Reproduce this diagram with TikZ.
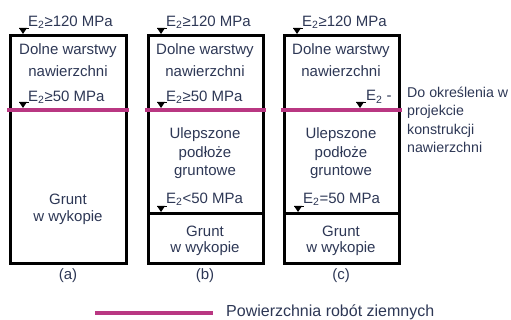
\documentclass[tikz,border=0pt]{standalone}
\usepackage{fontspec}
\setmainfont{Liberation Sans}
\definecolor{txt}{RGB}{45,55,85}
\definecolor{mag}{RGB}{185,55,130}
\begin{document}
\begin{tikzpicture}[x=1pt,y=-1pt,
  lbl/.style={text=txt,font=\fontsize{15}{18}\selectfont,inner sep=0pt},
  box/.style={draw=black,line width=3pt},
  surf/.style={draw=mag,line width=4pt},
  sep/.style={draw=black,line width=3pt},
  tri/.style={fill=black}]
\useasboundingbox (0,0) rectangle (511,320);
% boxes
\draw[box] (10,36) rectangle (126,264);
\draw[box] (148,36) rectangle (263,264);
\draw[box] (284,36) rectangle (399,264);
\draw[sep] (148,214) -- (263,214);
\draw[sep] (284,214) -- (399,214);
% earthworks surface
\draw[surf] (7,110) -- (129,110);
\draw[surf] (145,110) -- (266,110);
\draw[surf] (281,110) -- (402,110);
% markers
\foreach \x/\y in {23/36,161/36,297/36,23/110,161/110,161/214,298/214,360/110}{
  \fill[tri] (\x-4,\y-8) -- (\x+4,\y-8) -- (\x,\y-2) -- cycle;
  \draw[black,line width=0.6pt] (\x-4,\y-8) -- (\x+6,\y-8);
}
% box a
\node[lbl,anchor=west] (a1) at (28,22) {E\textsubscript{2}≥120 MPa};
\node[lbl] (a2) at (68,51) {Dolne warstwy};
\node[lbl] (a3) at (68,71) {nawierzchni};
\node[lbl,anchor=west] (a4) at (28,97) {E\textsubscript{2}≥50 MPa};
\node[lbl] (a5) at (68,199) {Grunt};
\node[lbl] (a6) at (68,218) {w wykopie};
\node[lbl] (la) at (68,276) {(a)};
% box b
\node[lbl,anchor=west] (b1) at (166,22) {E\textsubscript{2}≥120 MPa};
\node[lbl] (b2) at (205,51) {Dolne warstwy};
\node[lbl] (b3) at (205,71) {nawierzchni};
\node[lbl,anchor=west] (b4) at (166,97) {E\textsubscript{2}≥50 MPa};
\node[lbl] (b5) at (205,135) {Ulepszone};
\node[lbl] (b6) at (205,154) {podłoże};
\node[lbl] (b7) at (205,172) {gruntowe};
\node[lbl,anchor=west] (b8) at (166,199) {E\textsubscript{2}<50 MPa};
\node[lbl] (b9) at (205,231) {Grunt};
\node[lbl] (b10) at (205,249) {w wykopie};
\node[lbl] (lb) at (205,276) {(b)};
% box c
\node[lbl,anchor=west] (c1) at (302,22) {E\textsubscript{2}≥120 MPa};
\node[lbl] (c2) at (341,51) {Dolne warstwy};
\node[lbl] (c3) at (341,71) {nawierzchni};
\node[lbl,anchor=west] (c4) at (366,97) {E\textsubscript{2} -};
\node[lbl] (c5) at (341,135) {Ulepszone};
\node[lbl] (c6) at (341,154) {podłoże};
\node[lbl] (c7) at (341,172) {gruntowe};
\node[lbl,anchor=west] (c8) at (303,199) {E\textsubscript{2}=50 MPa};
\node[lbl] (c9) at (341,231) {Grunt};
\node[lbl] (c10) at (341,249) {w wykopie};
\node[lbl] (lc) at (341,276) {(c)};
% note
\node[lbl,anchor=north west,align=left,font=\fontsize{14.2}{18.3}\selectfont] (note) at (407,87)
  {Do określenia w\\projekcie\\konstrukcji\\nawierzchni};
% legend
\coordinate (l1) at (95,313);
\coordinate (l2) at (213,313);
\draw[surf] (l1) -- (l2);
\node[lbl,anchor=west,font=\fontsize{16}{19}\selectfont] (leg) at (226,312) {Powierzchnia robót ziemnych};
\end{tikzpicture}
\end{document}
